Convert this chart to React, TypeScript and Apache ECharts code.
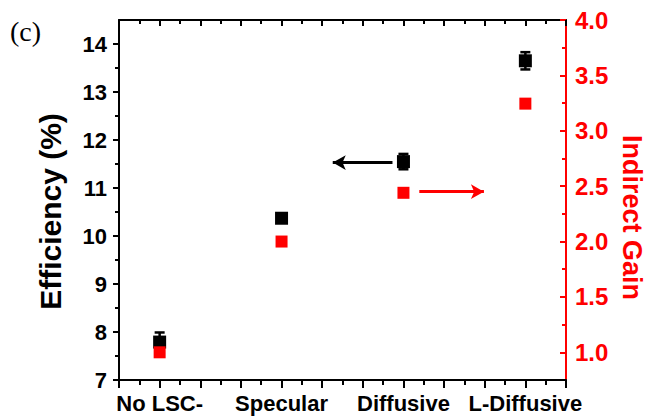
import React, { useEffect, useRef } from "react";
import * as echarts from "echarts";

// ---- data ----
const categories = ["No LSC-", "Specular", "Diffusive", "L-Diffusive"];
const categoryX = [1, 2, 3, 4];
const efficiency = [7.79, 10.37, 11.55, 13.65];
const efficiencyErr = [0.2, 0.08, 0.16, 0.18];
const indirectGain = [1.0, 2.0, 2.44, 3.245];
const leftTickLabels = [7, 8, 9, 10, 11, 12, 13, 14];
const rightTickLabels = [1.0, 1.5, 2.0, 2.5, 3.0, 3.5, 4.0];
// annotation arrows in data coordinates: [xFrom, xTo, y]
const effArrow = [2.91, 2.42, 11.53];
const gainArrow = [3.13, 3.66, 2.45];

const XMIN = 2 / 3;
const XMAX = 13 / 3;
const FONT = "'Liberation Sans', Arial, sans-serif";
const RED = "#ff0000";

const xMajor: number[] = [];
const xMinor: number[] = [];
for (let k = 4; k <= 26; k++) (k % 2 === 0 ? xMajor : xMinor).push(k / 6);
const leftMinor: number[] = [];
for (let v = 7.5; v < 14.5; v += 1) leftMinor.push(v);
const rightMinor: number[] = [];
for (let v = 1.25; v < 4; v += 0.5) rightMinor.push(v);

export default function App() {
  const ref = useRef<HTMLDivElement>(null);
  useEffect(() => {
    if (!ref.current) return;
    const chart = echarts.init(ref.current, null, { renderer: "svg" });
    const hiddenLabel = { show: false };
    const xBase = (pos: string, extra: any) => ({
      type: "value",
      position: pos,
      min: XMIN,
      max: XMAX,
      splitLine: { show: false },
      ...extra,
    });
    const option: any = {
      animation: false,
      backgroundColor: "#ffffff",
      grid: { left: 119, right: 82, top: 20, bottom: 39, containLabel: false, outerBoundsMode: "none" },
      graphic: [
        {
          type: "text",
          left: 10,
          top: 17,
          style: { text: "(c)", font: "28px 'Liberation Serif', 'Times New Roman', serif", fill: "#000" },
        },
        {
          type: "text",
          x: 50.5,
          y: 211.5,
          rotation: Math.PI / 2,
          style: {
            text: "Efficiency (%)",
            font: `bold 30px ${FONT}`,
            fill: "#000",
            textAlign: "center",
            textVerticalAlign: "middle",
          },
        },
        {
          type: "text",
          x: 632,
          y: 217.5,
          rotation: -Math.PI / 2,
          style: {
            text: "Indirect Gain",
            font: `bold 27px ${FONT}`,
            fill: RED,
            textAlign: "center",
            textVerticalAlign: "middle",
          },
        },
      ],
      xAxis: [
        xBase("bottom", {
          axisLine: { lineStyle: { color: "#000", width: 2 } },
          axisTick: { show: true, inside: false, length: 8, lineStyle: { color: "#000", width: 2 }, customValues: xMajor },
          axisLabel: {
            show: true,
            customValues: categoryX,
            formatter: (v: number) => categories[Math.round(v) - 1] ?? "",
            color: "#000",
            fontFamily: FONT,
            fontWeight: "bold",
            fontSize: 22,
            margin: 12,
          },
        }),
        xBase("bottom", {
          axisLine: { show: false },
          axisTick: { show: true, inside: false, length: 5, lineStyle: { color: "#000", width: 2 }, customValues: xMinor },
          axisLabel: hiddenLabel,
        }),
        xBase("top", {
          axisLine: { lineStyle: { color: "#000", width: 2 } },
          axisTick: { show: true, inside: true, length: 6, lineStyle: { color: "#000", width: 2 }, customValues: xMajor },
          axisLabel: hiddenLabel,
        }),
        xBase("top", {
          axisLine: { show: false },
          axisTick: { show: true, inside: true, length: 4, lineStyle: { color: "#000", width: 2 }, customValues: xMinor },
          axisLabel: hiddenLabel,
        }),
      ],
      yAxis: [
        {
          type: "value",
          position: "left",
          min: 7,
          max: 14.5,
          splitLine: { show: false },
          axisLine: { show: true, lineStyle: { color: "#000", width: 2 } },
          axisTick: { show: true, inside: false, length: 6, lineStyle: { color: "#000", width: 2 }, customValues: leftTickLabels },
          axisLabel: {
            show: true,
            customValues: leftTickLabels,
            color: "#000",
            fontFamily: FONT,
            fontWeight: "bold",
            fontSize: 22,
            margin: 12,
          },
        },
        {
          type: "value",
          position: "left",
          min: 7,
          max: 14.5,
          splitLine: { show: false },
          axisLine: { show: false },
          axisTick: { show: true, inside: false, length: 4, lineStyle: { color: "#000", width: 2 }, customValues: leftMinor },
          axisLabel: hiddenLabel,
        },
        {
          type: "value",
          position: "right",
          min: 0.75,
          max: 4.0,
          splitLine: { show: false },
          axisLine: { show: true, lineStyle: { color: RED, width: 2 } },
          axisTick: { show: true, inside: true, length: 6, lineStyle: { color: RED, width: 2 }, customValues: rightTickLabels },
          axisLabel: {
            show: true,
            customValues: rightTickLabels,
            formatter: (v: number) => v.toFixed(1),
            color: RED,
            fontFamily: FONT,
            fontWeight: "bold",
            fontSize: 24,
            margin: 9,
          },
        },
        {
          type: "value",
          position: "right",
          min: 0.75,
          max: 4.0,
          splitLine: { show: false },
          axisLine: { show: false },
          axisTick: { show: true, inside: true, length: 4, lineStyle: { color: RED, width: 2 }, customValues: rightMinor },
          axisLabel: hiddenLabel,
        },
      ],
      series: [
        {
          type: "custom",
          name: "errors",
          xAxisIndex: 0,
          yAxisIndex: 0,
          z: 3,
          encode: { x: 0, y: 1 },
          data: categoryX.map((x, i) => [x, efficiency[i], efficiencyErr[i]]),
          renderItem: (params: any, api: any) => {
            const x = api.value(0);
            const y = api.value(1);
            const e = api.value(2);
            const top = api.coord([x, y + e]);
            const bot = api.coord([x, y - e]);
            const hw = 5;
            const st = { stroke: "#000", lineWidth: 2.5 };
            return {
              type: "group",
              children: [
                { type: "line", shape: { x1: top[0], y1: top[1], x2: bot[0], y2: bot[1] }, style: st },
                { type: "line", shape: { x1: top[0] - hw, y1: top[1], x2: top[0] + hw, y2: top[1] }, style: st },
                { type: "line", shape: { x1: bot[0] - hw, y1: bot[1], x2: bot[0] + hw, y2: bot[1] }, style: st },
              ],
            };
          },
        },
        {
          type: "scatter",
          name: "Efficiency",
          xAxisIndex: 0,
          yAxisIndex: 0,
          z: 4,
          symbol: "rect",
          symbolSize: 13,
          itemStyle: { color: "#000", opacity: 1 },
          data: categoryX.map((x, i) => [x, efficiency[i]]),
          markLine: {
            silent: true,
            symbol: ["none", "arrow"],
            symbolSize: [11, 13],
            label: { show: false },
            lineStyle: { color: "#000", width: 3, type: "solid", opacity: 1 },
            data: [[{ coord: [effArrow[0], effArrow[2]] }, { coord: [effArrow[1], effArrow[2]] }]],
          },
        },
        {
          type: "scatter",
          name: "Indirect Gain",
          xAxisIndex: 0,
          yAxisIndex: 2,
          z: 5,
          symbol: "rect",
          symbolSize: 12,
          itemStyle: { color: RED, opacity: 1 },
          data: categoryX.map((x, i) => [x, indirectGain[i]]),
          markLine: {
            silent: true,
            symbol: ["none", "arrow"],
            symbolSize: [11, 13],
            label: { show: false },
            lineStyle: { color: RED, width: 3, type: "solid", opacity: 1 },
            data: [[{ coord: [gainArrow[0], gainArrow[2]] }, { coord: [gainArrow[1], gainArrow[2]] }]],
          },
        },
      ],
    };
    chart.setOption(option);
    return () => chart.dispose();
  }, []);
  return <div ref={ref} style={{ position: "fixed", left: 0, top: 0, width: 648, height: 419 }} />;
}
